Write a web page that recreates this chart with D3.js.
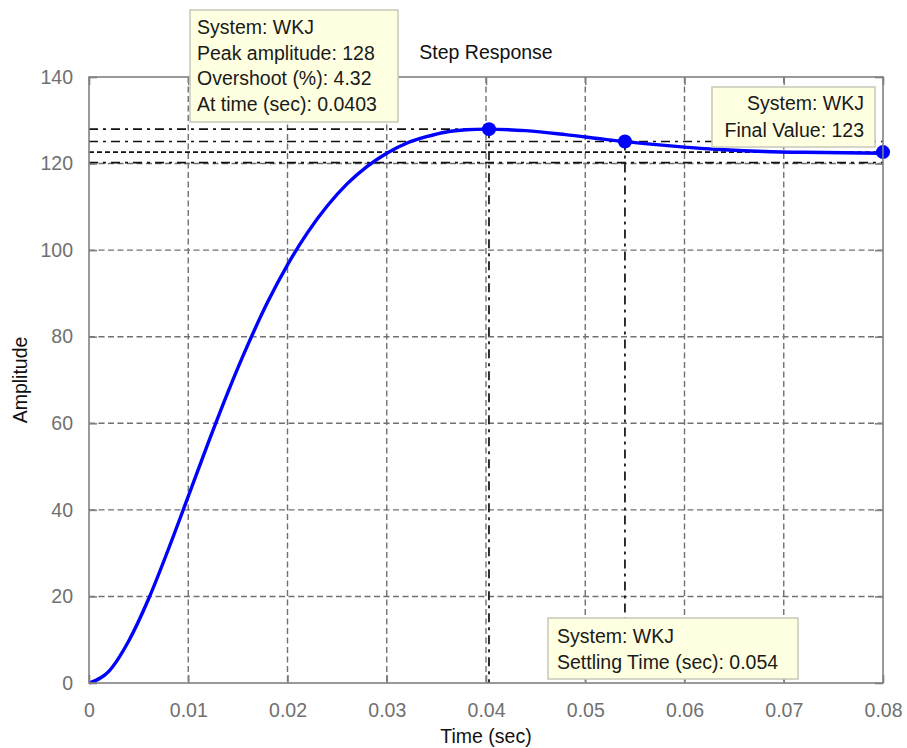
<!DOCTYPE html>
<html>
<head>
<meta charset="utf-8">
<script src="https://cdn.jsdelivr.net/npm/d3@7"></script>
<style>
html,body{margin:0;padding:0;background:#fff;}
svg{display:block;}
text{font-family:"Liberation Sans",Arial,sans-serif;}
</style>
</head>
<body>
<svg id="chart" width="907" height="748"></svg>
<script>
// ---- data ----
const timeSec = [0,0.002,0.004,0.006,0.008,0.010,0.012,0.014,0.016,0.018,0.020,0.022,0.024,0.026,0.028,0.030,0.032,0.034,0.036,0.038,0.040,0.044,0.048,0.052,0.056,0.060,0.064,0.068,0.072,0.076,0.080];
const amplitude = [0,2.7,9.7,19.4,30.9,43.1,55.4,67.2,78.1,88.0,96.6,104.0,110.2,115.3,119.3,122.4,124.7,126.2,127.3,127.8,127.95,127.6,126.7,125.6,124.6,123.8,123.2,122.8,122.6,122.5,122.4];
const xTicks = [0,0.01,0.02,0.03,0.04,0.05,0.06,0.07,0.08];
const xTickLabels = ["0","0.01","0.02","0.03","0.04","0.05","0.06","0.07","0.08"];
const yTicks = [0,20,40,60,80,100,120,140];
const yTickLabels = ["0","20","40","60","80","100","120","140"];
const peakTime = 0.0403, peakValue = 127.95;
const settleTime = 0.054, settleValue = 125.1;
const finalValue = 122.65;
const upperBound = 125.1, lowerBound = 120.2;
const peakText = ["System: WKJ","Peak amplitude: 128","Overshoot (%): 4.32","At time (sec): 0.0403"];
const finalText = ["System: WKJ","Final Value: 123"];
const settleText = ["System: WKJ","Settling Time (sec): 0.054"];

// ---- layout ----
const svg = d3.select("#chart");
const L = 89, R = 883, T = 77, B = 683;
const x = d3.scaleLinear().domain([0,0.08]).range([L,R]);
const y = d3.scaleLinear().domain([0,140]).range([B,T]);
const FS = 19.5;
const axisGray = "#808080";

// grid
const grid = svg.append("g");
grid.selectAll("line.gx").data(xTicks.slice(1,-1)).enter().append("line")
  .attr("x1",d=>x(d)).attr("x2",d=>x(d)).attr("y1",T).attr("y2",B)
  .attr("stroke","#707070").attr("stroke-width",1.4).attr("stroke-dasharray","6,3.5");
grid.selectAll("line.gy").data(yTicks.slice(1,-1)).enter().append("line")
  .attr("y1",d=>y(d)).attr("y2",d=>y(d)).attr("x1",L).attr("x2",R)
  .attr("stroke","#707070").attr("stroke-width",1.4).attr("stroke-dasharray","6,3.5");

// characteristic lines
const dashDot = "9,5,3,5";
const ch = svg.append("g").attr("stroke","#111").attr("stroke-width",1.7).attr("fill","none");
ch.append("line").attr("x1",L).attr("x2",x(peakTime)).attr("y1",y(peakValue)).attr("y2",y(peakValue)).attr("stroke-dasharray",dashDot);
ch.append("line").attr("x1",x(peakTime)).attr("x2",x(peakTime)).attr("y1",y(peakValue)).attr("y2",B).attr("stroke-dasharray",dashDot);
ch.append("line").attr("x1",L).attr("x2",R).attr("y1",y(upperBound)).attr("y2",y(upperBound)).attr("stroke-dasharray",dashDot);
ch.append("line").attr("x1",L).attr("x2",R).attr("y1",y(lowerBound)).attr("y2",y(lowerBound)).attr("stroke-dasharray",dashDot);
ch.append("line").attr("x1",L).attr("x2",R).attr("y1",y(finalValue)).attr("y2",y(finalValue)).attr("stroke-dasharray","5,3");
ch.append("line").attr("x1",x(settleTime)).attr("x2",x(settleTime)).attr("y1",y(settleValue)).attr("y2",B).attr("stroke-dasharray",dashDot);

// curve
const pts = timeSec.map((t,i)=>[t,amplitude[i]]);
const line = d3.line().x(d=>x(d[0])).y(d=>y(d[1])).curve(d3.curveMonotoneX);
svg.append("path").datum(pts).attr("d",line).attr("fill","none")
  .attr("stroke","#0000ff").attr("stroke-width",3.4).attr("stroke-linejoin","round");

// markers
svg.selectAll("circle.mk").data([[peakTime,peakValue],[settleTime,settleValue],[0.08,finalValue]]).enter()
  .append("circle").attr("cx",d=>x(d[0])).attr("cy",d=>y(d[1])).attr("r",7).attr("fill","#0000ff");

// axes box
svg.append("rect").attr("x",L).attr("y",T).attr("width",R-L).attr("height",B-T)
  .attr("fill","none").attr("stroke",axisGray).attr("stroke-width",1.6);

// ticks via d3 axes
const tickLen = 8;
const xAxisB = d3.axisBottom(x).tickValues(xTicks).tickSize(-tickLen).tickFormat((d,i)=>xTickLabels[i]).tickPadding(tickLen+12);
const xAxisT = d3.axisTop(x).tickValues(xTicks).tickSize(-tickLen).tickFormat("");
const yAxisL = d3.axisLeft(y).tickValues(yTicks).tickSize(-tickLen).tickFormat((d,i)=>yTickLabels[i]).tickPadding(tickLen+8);
const yAxisR = d3.axisRight(y).tickValues(yTicks).tickSize(-tickLen).tickFormat("");
function styleAxis(g){
  g.select(".domain").remove();
  g.selectAll(".tick line").attr("stroke",axisGray).attr("stroke-width",1.6);
  g.selectAll(".tick text").attr("fill","#707070").style("font-size",FS+"px").style("font-family","'Liberation Sans',Arial,sans-serif");
}
svg.append("g").attr("transform",`translate(0,${B})`).call(xAxisB).call(styleAxis);
svg.append("g").attr("transform",`translate(0,${T})`).call(xAxisT).call(styleAxis);
svg.append("g").attr("transform",`translate(${L},0)`).call(yAxisL).call(styleAxis);
svg.append("g").attr("transform",`translate(${R},0)`).call(yAxisR).call(styleAxis);

// labels
svg.append("text").attr("x",(L+R)/2).attr("y",59).attr("text-anchor","middle").style("font-size",FS+"px").attr("fill","#111").text("Step Response");
svg.append("text").attr("x",(L+R)/2).attr("y",743).attr("text-anchor","middle").style("font-size",FS+"px").attr("fill","#111").text("Time (sec)");
svg.append("text").attr("transform",`translate(27,${(T+B)/2}) rotate(-90)`).attr("text-anchor","middle").style("font-size",FS+"px").attr("fill","#111").text("Amplitude");

// annotation boxes
function box(bx,by,bw,bh,lines,tx,ty0,dy,anchor){
  const g = svg.append("g");
  g.append("rect").attr("x",bx).attr("y",by).attr("width",bw).attr("height",bh)
    .attr("fill","#ffffe1").attr("stroke","#c8c8b8").attr("stroke-width",1.5);
  g.selectAll("text").data(lines).enter().append("text")
    .attr("x",tx).attr("y",(d,i)=>ty0+i*dy).attr("text-anchor",anchor)
    .style("font-size",FS+"px").attr("fill","#1a1a1a").text(d=>d);
}
box(190,10,208,112,peakText,197,34,25.7,"start");
box(712,87,163,60,finalText,864,110,26.5,"end");
box(548,618,250,61,settleText,557,643,25.5,"start");
</script>
</body>
</html>
